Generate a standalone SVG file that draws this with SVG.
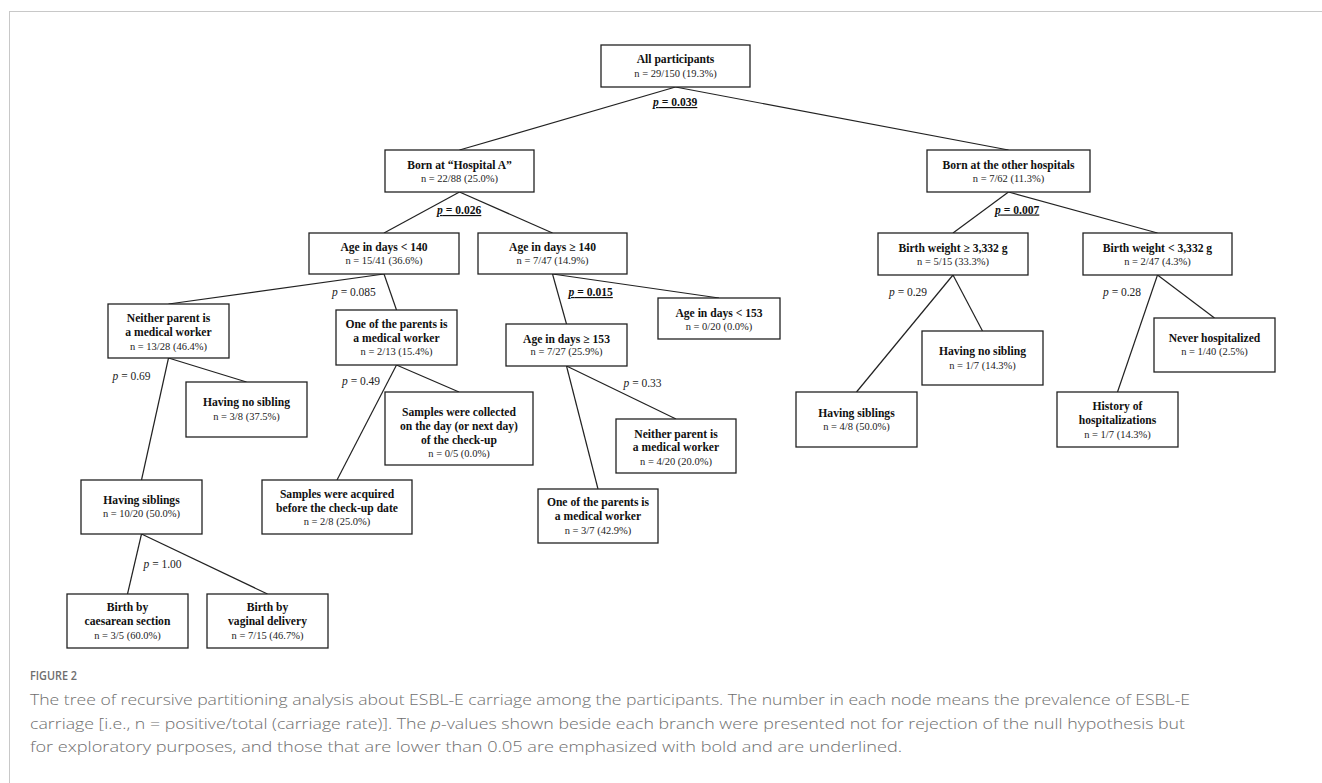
<svg xmlns="http://www.w3.org/2000/svg" width="1322" height="783" viewBox="0 0 1322 783">
<style>
  .box { fill: #ffffff; stroke: #222222; stroke-width: 1.3; }
  .t { font-family: "Liberation Serif", "Times New Roman", serif; font-size: 11.6px; font-weight: bold; fill: #111111; text-anchor: middle; }
  .n { font-family: "Liberation Serif", "Times New Roman", serif; font-size: 10.5px; fill: #222222; text-anchor: middle; }
  .p { font-family: "Liberation Serif", "Times New Roman", serif; font-size: 11.5px; fill: #222222; }
  .pb { font-family: "Liberation Serif", "Times New Roman", serif; font-size: 11.6px; font-weight: bold; fill: #111111; text-decoration: underline; }
  .conn line { stroke: #222222; stroke-width: 1.2; }
  .cap { font-family: "Open Sans", "Noto Sans", sans-serif; font-size: 15px; font-weight: 300; fill: #6e6e6e; }
  .fig { font-family: "Open Sans", "Noto Sans", sans-serif; font-size: 12.5px; font-weight: 600; fill: #6e6e6e; }
</style>
<rect x="0" y="0" width="1322" height="783" fill="#ffffff"/>
<g id="frame" stroke="#c8c8c8" stroke-width="1">
  <line x1="9" y1="11.5" x2="1322" y2="11.5"/>
  <line x1="9.5" y1="11" x2="9.5" y2="783"/>
</g>
<g id="connectors" class="conn">
  <line x1="675.5" y1="87" x2="459.5" y2="150"/>
  <line x1="675.5" y1="87" x2="1008.5" y2="150"/>
  <line x1="459.5" y1="192" x2="384" y2="233"/>
  <line x1="459.5" y1="192" x2="552.5" y2="233"/>
  <line x1="1008.5" y1="192" x2="953" y2="233"/>
  <line x1="1008.5" y1="192" x2="1157.5" y2="233"/>
  <line x1="384" y1="274" x2="168.5" y2="304"/>
  <line x1="384" y1="274" x2="396.5" y2="310"/>
  <line x1="552.5" y1="274" x2="566.5" y2="324"/>
  <line x1="552.5" y1="274" x2="719" y2="298"/>
  <line x1="168.5" y1="358" x2="246.5" y2="382"/>
  <line x1="168.5" y1="358" x2="141.5" y2="480"/>
  <line x1="396.5" y1="365" x2="459" y2="392"/>
  <line x1="396.5" y1="365" x2="337" y2="480"/>
  <line x1="566.5" y1="366" x2="676" y2="419"/>
  <line x1="566.5" y1="366" x2="598" y2="489"/>
  <line x1="141.5" y1="534" x2="127.5" y2="594"/>
  <line x1="141.5" y1="534" x2="267.5" y2="594"/>
  <line x1="953" y1="275" x2="982.5" y2="331"/>
  <line x1="953" y1="275" x2="856.5" y2="392"/>
  <line x1="1157.5" y1="275" x2="1214.5" y2="318"/>
  <line x1="1157.5" y1="275" x2="1117.5" y2="392"/>
</g>
<g id="pvalues">
  <text class="pb" x="653" y="106"><tspan font-style="italic">p</tspan> = 0.039</text>
  <text class="pb" x="437" y="214"><tspan font-style="italic">p</tspan> = 0.026</text>
  <text class="pb" x="995" y="213.5"><tspan font-style="italic">p</tspan> = 0.007</text>
  <text class="pb" x="568.5" y="296"><tspan font-style="italic">p</tspan> = 0.015</text>
  <text class="p" x="332" y="296"><tspan font-style="italic">p</tspan> = 0.085</text>
  <text class="p" x="112.5" y="379.5"><tspan font-style="italic">p</tspan> = 0.69</text>
  <text class="p" x="342" y="385"><tspan font-style="italic">p</tspan> = 0.49</text>
  <text class="p" x="623.5" y="387"><tspan font-style="italic">p</tspan> = 0.33</text>
  <text class="p" x="143.5" y="567.5"><tspan font-style="italic">p</tspan> = 1.00</text>
  <text class="p" x="889" y="296"><tspan font-style="italic">p</tspan> = 0.29</text>
  <text class="p" x="1103" y="296"><tspan font-style="italic">p</tspan> = 0.28</text>
</g>
<g id="node-all">
  <rect class="box" x="601" y="45" width="149" height="42"/>
  <text class="t" x="675.5" y="63">All participants</text>
  <text class="n" x="675.5" y="77">n = 29/150 (19.3%)</text>
</g>
<g id="node-bornA">
  <rect class="box" x="385" y="150" width="149" height="42"/>
  <text class="t" x="459.5" y="169">Born at “Hospital A”</text>
  <text class="n" x="459.5" y="182">n = 22/88 (25.0%)</text>
</g>
<g id="node-bornOther">
  <rect class="box" x="927" y="150" width="163" height="42"/>
  <text class="t" x="1008.5" y="168.5">Born at the other hospitals</text>
  <text class="n" x="1008.5" y="182">n = 7/62 (11.3%)</text>
</g>
<g id="node-age-lt140">
  <rect class="box" x="309" y="233" width="150" height="41"/>
  <text class="t" x="384" y="251">Age in days &lt; 140</text>
  <text class="n" x="384" y="264">n = 15/41 (36.6%)</text>
</g>
<g id="node-age-ge140">
  <rect class="box" x="478" y="233" width="149" height="41"/>
  <text class="t" x="552.5" y="251">Age in days ≥ 140</text>
  <text class="n" x="552.5" y="264">n = 7/47 (14.9%)</text>
</g>
<g id="node-bw-ge">
  <rect class="box" x="878" y="233" width="150" height="42"/>
  <text class="t" x="953" y="252">Birth weight ≥ 3,332 g</text>
  <text class="n" x="953" y="264.5">n = 5/15 (33.3%)</text>
</g>
<g id="node-bw-lt">
  <rect class="box" x="1083" y="233" width="149" height="42"/>
  <text class="t" x="1157.5" y="252">Birth weight &lt; 3,332 g</text>
  <text class="n" x="1157.5" y="264.5">n = 2/47 (4.3%)</text>
</g>
<g id="node-neither-left">
  <rect class="box" x="108" y="304" width="121" height="54"/>
  <text class="t" x="168.5" y="322">Neither parent is</text>
  <text class="t" x="168.5" y="336">a medical worker</text>
  <text class="n" x="168.5" y="349.5">n = 13/28 (46.4%)</text>
</g>
<g id="node-one-mid">
  <rect class="box" x="336" y="310" width="121" height="55"/>
  <text class="t" x="396.5" y="328">One of the parents is</text>
  <text class="t" x="396.5" y="342">a medical worker</text>
  <text class="n" x="396.5" y="355">n = 2/13 (15.4%)</text>
</g>
<g id="node-age-lt153">
  <rect class="box" x="658" y="298" width="122" height="41"/>
  <text class="t" x="719" y="317">Age in days &lt; 153</text>
  <text class="n" x="719" y="330">n = 0/20 (0.0%)</text>
</g>
<g id="node-age-ge153">
  <rect class="box" x="506" y="324" width="121" height="42"/>
  <text class="t" x="566.5" y="342.5">Age in days ≥ 153</text>
  <text class="n" x="566.5" y="355">n = 7/27 (25.9%)</text>
</g>
<g id="node-nosib-left">
  <rect class="box" x="186" y="382" width="121" height="55"/>
  <text class="t" x="246.5" y="406">Having no sibling</text>
  <text class="n" x="246.5" y="419.5">n = 3/8 (37.5%)</text>
</g>
<g id="node-samples-collected">
  <rect class="box" x="385" y="392" width="148" height="73"/>
  <text class="t" x="459" y="416">Samples were collected</text>
  <text class="t" x="459" y="430">on the day (or next day)</text>
  <text class="t" x="459" y="444">of the check-up</text>
  <text class="n" x="459" y="457">n = 0/5 (0.0%)</text>
</g>
<g id="node-neither-right">
  <rect class="box" x="616" y="419" width="120" height="54"/>
  <text class="t" x="676" y="437.5">Neither parent is</text>
  <text class="t" x="676" y="451">a medical worker</text>
  <text class="n" x="676" y="464.5">n = 4/20 (20.0%)</text>
</g>
<g id="node-sib-left">
  <rect class="box" x="81" y="480" width="121" height="54"/>
  <text class="t" x="141.5" y="503.5">Having siblings</text>
  <text class="n" x="141.5" y="517">n = 10/20 (50.0%)</text>
</g>
<g id="node-samples-acquired">
  <rect class="box" x="262" y="480" width="150" height="54"/>
  <text class="t" x="337" y="497.5">Samples were acquired</text>
  <text class="t" x="337" y="511.5">before the check-up date</text>
  <text class="n" x="337" y="524.5">n = 2/8 (25.0%)</text>
</g>
<g id="node-one-bottom">
  <rect class="box" x="538" y="489" width="120" height="54"/>
  <text class="t" x="598" y="506">One of the parents is</text>
  <text class="t" x="598" y="520">a medical worker</text>
  <text class="n" x="598" y="533.5">n = 3/7 (42.9%)</text>
</g>
<g id="node-caesarean">
  <rect class="box" x="67" y="594" width="121" height="54"/>
  <text class="t" x="127.5" y="611">Birth by</text>
  <text class="t" x="127.5" y="625">caesarean section</text>
  <text class="n" x="127.5" y="638.5">n = 3/5 (60.0%)</text>
</g>
<g id="node-vaginal">
  <rect class="box" x="207" y="594" width="121" height="54"/>
  <text class="t" x="267.5" y="611">Birth by</text>
  <text class="t" x="267.5" y="625">vaginal delivery</text>
  <text class="n" x="267.5" y="638.5">n = 7/15 (46.7%)</text>
</g>
<g id="node-nosib-right">
  <rect class="box" x="922" y="331" width="121" height="54"/>
  <text class="t" x="982.5" y="355">Having no sibling</text>
  <text class="n" x="982.5" y="368.5">n = 1/7 (14.3%)</text>
</g>
<g id="node-sib-right">
  <rect class="box" x="796" y="392" width="121" height="55"/>
  <text class="t" x="856.5" y="417">Having siblings</text>
  <text class="n" x="856.5" y="430">n = 4/8 (50.0%)</text>
</g>
<g id="node-never-hosp">
  <rect class="box" x="1154" y="318" width="121" height="54"/>
  <text class="t" x="1214.5" y="342">Never hospitalized</text>
  <text class="n" x="1214.5" y="355">n = 1/40 (2.5%)</text>
</g>
<g id="node-history-hosp">
  <rect class="box" x="1057" y="392" width="121" height="55"/>
  <text class="t" x="1117.5" y="410">History of</text>
  <text class="t" x="1117.5" y="424">hospitalizations</text>
  <text class="n" x="1117.5" y="437.5">n = 1/7 (14.3%)</text>
</g>
<g id="caption">
  <text class="fig" x="30" y="680" textLength="47" lengthAdjust="spacingAndGlyphs">FIGURE 2</text>
  <text class="cap" x="30" y="705" textLength="1160" lengthAdjust="spacingAndGlyphs">The tree of recursive partitioning analysis about ESBL-E carriage among the participants. The number in each node means the prevalence of ESBL-E</text>
  <text class="cap" x="30" y="728.5" textLength="1155" lengthAdjust="spacingAndGlyphs">carriage [i.e., n = positive/total (carriage rate)]. The <tspan font-style="italic">p</tspan>-values shown beside each branch were presented not for rejection of the null hypothesis but</text>
  <text class="cap" x="30" y="752" textLength="872" lengthAdjust="spacingAndGlyphs">for exploratory purposes, and those that are lower than 0.05 are emphasized with bold and are underlined.</text>
</g>
</svg>
